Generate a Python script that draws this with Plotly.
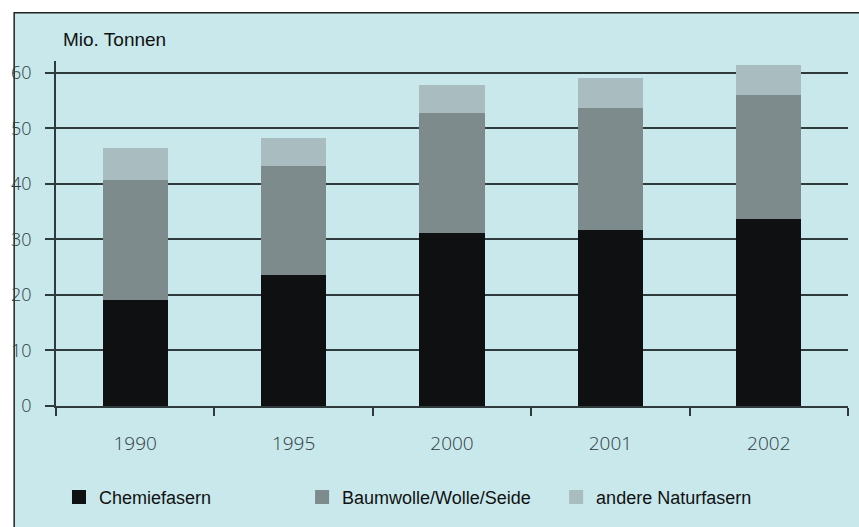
import plotly.graph_objects as go

years = ["1990", "1995", "2000", "2001", "2002"]
chemiefasern = [19.3, 23.7, 31.4, 31.9, 33.9]
baumwolle = [21.6, 19.6, 21.5, 21.9, 22.3]
andere = [5.4, 4.7, 4.7, 5.0, 5.0]
series_names = ["Chemiefasern", "Baumwolle/Wolle/Seide", "andere Naturfasern"]
y_ticks = [0, 10, 20, 30, 40, 50, 60]

colors = ["#0e1011", "#7e8b8d", "#a9bdc1"]
bg = "#c8e8ec"
grid = "#2f3a3c"

W, H = 859, 527
L, R, T, B = 53, 11, 61, 115
pw, ph = W - L - R, H - T - B

def px2x(p):
    return (p - L) / pw

def px2y(p):
    return (H - B - p) / ph

fig = go.Figure()
for i, (name, vals) in enumerate(zip(series_names, [chemiefasern, baumwolle, andere])):
    fig.add_trace(go.Bar(
        x=years, y=vals, name=name,
        marker=dict(color=colors[i], line=dict(color=colors[i], width=2)),
        legend=["legend", "legend2", "legend3"][i],
    ))

legend_font = dict(family="Liberation Sans, Arial, sans-serif", size=18, color="#111")
leg_common = dict(orientation="h", yanchor="middle", y=px2y(505), xanchor="left",
                  bgcolor="rgba(0,0,0,0)", font=legend_font)

fig.update_layout(
    width=W, height=H,
    margin=dict(l=L, r=R, t=T, b=B),
    paper_bgcolor="white",
    plot_bgcolor="rgba(0,0,0,0)",
    barmode="stack",
    bargap=0.6,
    showlegend=True,
    legend=dict(x=px2x(56), **leg_common),
    legend2=dict(x=px2x(300), **leg_common),
    legend3=dict(x=px2x(555), **leg_common),
    xaxis=dict(
        type="category",
        showgrid=False,
        showline=True, linecolor=grid, linewidth=1.5,
        ticks="outside", tickson="boundaries", ticklen=8, tickwidth=1.5, tickcolor=grid,
        tickfont=dict(family="Open Sans, Lato, sans-serif", size=19, color="#2f3a3c", weight=300),
        ticklabelstandoff=19,
        range=[-0.5, 4.5],
    ),
    yaxis=dict(
        range=[0, 62.1],
        tickvals=y_ticks,
        showgrid=True, gridcolor=grid, gridwidth=1.5,
        zeroline=False,
        showline=True, linecolor=grid, linewidth=1.5,
        ticks="outside", ticklen=9, tickwidth=1.5, tickcolor=grid,
        tickfont=dict(family="Open Sans, Lato, sans-serif", size=18, color="#2f3a3c", weight=300),
        ticklabelstandoff=10,
    ),
    shapes=[dict(
        type="rect", xref="paper", yref="paper",
        x0=px2x(11), x1=px2x(880), y0=px2y(560), y1=px2y(12),
        fillcolor=bg, line=dict(color="#222", width=1.5), layer="below",
    )],
    annotations=[dict(
        text="Mio. Tonnen", xref="paper", yref="paper",
        x=px2x(58), y=px2y(39), xanchor="left", yanchor="middle", showarrow=False,
        font=dict(family="Liberation Sans, Arial, sans-serif", size=19, color="#111"),
    )],
)

fig.write_html("out.html", config={"displayModeBar": False},
               post_script="document.body.style.margin='0';")
